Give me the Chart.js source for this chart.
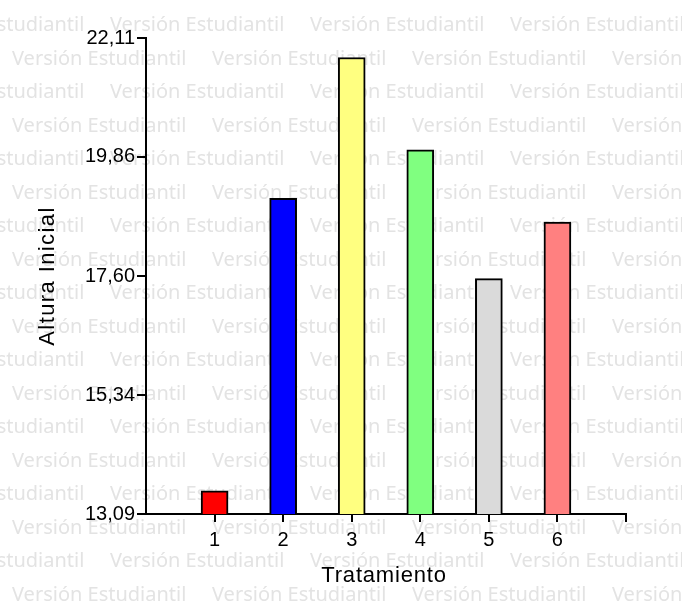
<!DOCTYPE html>
<html>
<head>
<meta charset="utf-8">
<title>Altura Inicial por Tratamiento</title>
<script src="https://cdn.jsdelivr.net/npm/chart.js@4.4.1/dist/chart.umd.min.js"></script>
<style>
  html, body { margin: 0; padding: 0; background: #ffffff; }
  #chart { display: block; }
</style>
</head>
<body>
<canvas id="chart" width="682" height="613"></canvas>
<script>
// Data
const categories = ["1", "2", "3", "4", "5", "6"];
const alturaInicial = [13.53, 19.07, 21.74, 19.99, 17.55, 18.62];
const barColors = ["#ff0000", "#0000ff", "#ffff80", "#80ff80", "#dadada", "#ff8080"];
const yTicks = [13.09, 15.34, 17.60, 19.86, 22.11];
const xTicks = [1, 2, 3, 4, 5, 6, 7];

const yMin = yTicks[0];
const yMax = yTicks[yTicks.length - 1];
const tickFont = { family: "'Liberation Sans', Arial, sans-serif", size: 20 };
const titleFont = "22px 'Liberation Sans', Arial, sans-serif";

// Background watermark "Versión Estudiantil" repeated in rows
const watermarkPlugin = {
  id: "watermark",
  beforeDraw: function (chart) {
    const ctx = chart.ctx;
    ctx.save();
    ctx.fillStyle = "#ffffff";
    ctx.fillRect(0, 0, chart.width, chart.height);
    ctx.font = "20px 'Noto Sans', 'DejaVu Sans', sans-serif";
    ctx.fillStyle = "#e3e3e3";
    ctx.textBaseline = "alphabetic";
    ctx.textAlign = "left";
    for (let row = 0; row < 18; row++) {
      const y = 31 + row * 33.5;
      let x = (row % 2 === 0 ? 110 : 12) - 200;
      while (x < chart.width) {
        ctx.fillText("Versión Estudiantil", x, y);
        x += 200;
      }
    }
    ctx.restore();
  }
};

// Axis titles with a little letter spacing, like the original
const axisTitlePlugin = {
  id: "axisTitles",
  afterDraw: function (chart) {
    const ctx = chart.ctx;
    const area = chart.chartArea;
    ctx.save();
    ctx.font = titleFont;
    ctx.fillStyle = "#000000";
    ctx.textAlign = "center";
    ctx.textBaseline = "alphabetic";
    ctx.letterSpacing = "0.8px";
    ctx.fillText("Tratamiento", (area.left + area.right) / 2 - 2, area.bottom + 68);

    ctx.translate(area.left - 92, (area.top + area.bottom) / 2);
    ctx.rotate(-Math.PI / 2);
    ctx.letterSpacing = "1.4px";
    ctx.fillText("Altura Inicial", 0, 0);
    ctx.restore();
  }
};

const points = categories.map(function (label, i) {
  return { x: i + 1, y: alturaInicial[i] };
});

const chart = new Chart(document.getElementById("chart"), {
  type: "bar",
  data: {
    datasets: [{
      label: "Altura Inicial",
      data: points,
      backgroundColor: barColors,
      borderColor: "#000000",
      borderWidth: 2,
      borderSkipped: false,
      barThickness: 27
    }]
  },
  options: {
    responsive: false,
    animation: false,
    devicePixelRatio: 1,
    layout: {
      padding: { top: 38, right: 56, left: 0, bottom: 0 }
    },
    plugins: {
      legend: { display: false },
      tooltip: { enabled: false }
    },
    scales: {
      x: {
        type: "linear",
        offset: false,
        min: 0,
        max: 7,
        afterBuildTicks: function (scale) {
          scale.ticks = xTicks.map(function (v) { return { value: v }; });
        },
        afterFit: function (scale) {
          scale.height = 99;
        },
        ticks: {
          font: tickFont,
          color: "#000000",
          padding: 6,
          maxRotation: 0,
          callback: function (value) {
            return categories[value - 1] || "";
          }
        },
        grid: {
          offset: false,
          drawOnChartArea: false,
          drawTicks: true,
          tickLength: 8,
          color: "#000000",
          lineWidth: 2
        },
        border: { display: true, color: "#000000", width: 2 }
      },
      y: {
        min: yMin,
        max: yMax,
        afterBuildTicks: function (scale) {
          scale.ticks = yTicks.map(function (v) { return { value: v }; });
        },
        afterFit: function (scale) {
          scale.width = 146;
        },
        ticks: {
          font: tickFont,
          color: "#000000",
          padding: 2,
          callback: function (value) {
            return value.toFixed(2).replace(".", ",");
          }
        },
        grid: {
          drawOnChartArea: false,
          drawTicks: true,
          tickLength: 9,
          color: "#000000",
          lineWidth: 2
        },
        border: { display: true, color: "#000000", width: 2 }
      }
    }
  },
  plugins: [watermarkPlugin, axisTitlePlugin]
});
</script>
</body>
</html>
